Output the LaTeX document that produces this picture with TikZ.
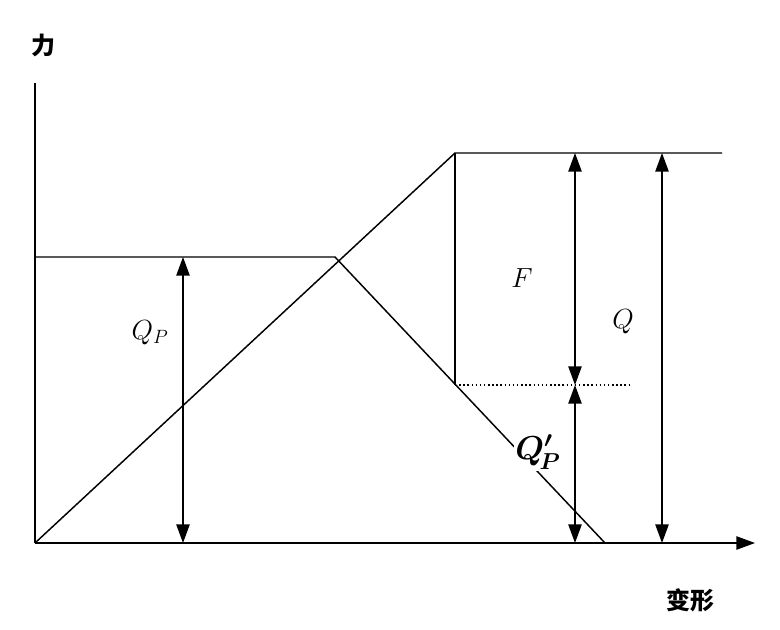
\documentclass[tikz,border=0pt]{standalone}
\usepackage{amsmath}
\usepackage{fontspec}
\newfontfamily\cjk{Noto Sans CJK SC}
\usetikzlibrary{arrows.meta}
\begin{document}
\begin{tikzpicture}[x=0.75pt,y=-0.75pt,line width=1.1pt,
  dim/.style={{Triangle[length=14pt,width=10pt]}-{Triangle[length=14pt,width=10pt]}},
  lbl/.style={font=\fontsize{22}{24}\selectfont}]
\useasboundingbox (0,0) rectangle (780,630);
\coordinate (O) at (35,543);
\coordinate (Ytop) at (35,83);
\coordinate (Xend) at (755,543);
\coordinate (A) at (335,257);
\coordinate (L) at (35,257);
\coordinate (T) at (455,153);
\coordinate (TR) at (722,153);
\coordinate (V) at (455,385);
\coordinate (D) at (632,385);
\coordinate (E) at (605,543);
\draw (O) -- (Ytop);
\draw[-{Triangle[length=14pt,width=10pt]}] (O) -- (Xend);
\draw (L) -- (A) -- (E);
\draw (O) -- (T) -- (TR);
\draw (T) -- (V);
\draw[dotted] (V) -- (D);
\draw[dim] (183,257) -- (183,543);
\draw[dim] (575,153) -- (575,385);
\draw[dim] (575,385) -- (575,543);
\draw[dim] (662,153) -- (662,543);
\node[lbl] (qp) at (150,333) {$Q_P$};
\node[lbl] (f) at (522,278) {$F$};
\node[lbl] (q) at (623,322) {$Q$};
\node[fill=white,inner sep=1pt,font=\fontsize{24}{26}\selectfont] (qpp) at (538,452) {$\boldsymbol{Q'_{\!P}}$};
\node[font=\cjk\bfseries\fontsize{18}{20}\selectfont] (yl) at (43,45) {力};
\node[font=\cjk\bfseries\fontsize{18}{20}\selectfont] (xl) at (690,600) {变形};
\end{tikzpicture}
\end{document}
